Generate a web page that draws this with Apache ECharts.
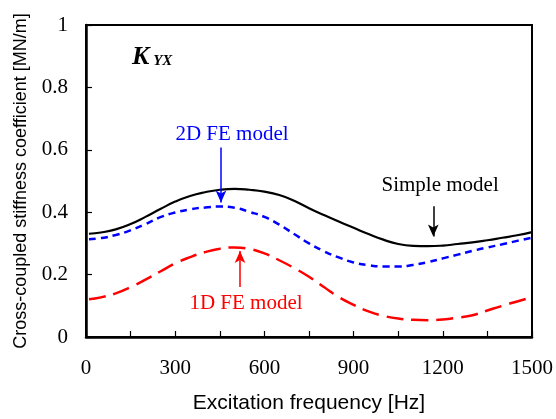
<!DOCTYPE html>
<html><head><meta charset="utf-8">
<script src="https://cdn.jsdelivr.net/npm/echarts@6/dist/echarts.min.js"></script>
<style>html,body{margin:0;padding:0;background:#fff}#c{width:556px;height:419px}</style>
</head><body><div id="c"></div>
<script>
const freqs = [10,50,100,150,200,250,300,350,400,450,500,550,600,650,700,750,800,850,900,950,1000,1050,1100,1150,1200,1250,1300,1350,1400,1450,1500];
const simpleModel = [0.331,0.335,0.345,0.362,0.385,0.410,0.434,0.452,0.464,0.472,0.475,0.472,0.466,0.455,0.437,0.413,0.391,0.370,0.350,0.330,0.312,0.298,0.292,0.291,0.293,0.298,0.303,0.310,0.318,0.326,0.336];
const fe2dModel = [0.313,0.317,0.327,0.342,0.362,0.384,0.399,0.409,0.415,0.418,0.414,0.401,0.385,0.360,0.330,0.300,0.275,0.255,0.239,0.230,0.226,0.226,0.231,0.240,0.252,0.264,0.276,0.287,0.297,0.308,0.318];
const fe1dModel = [0.121,0.127,0.140,0.160,0.184,0.210,0.236,0.256,0.272,0.283,0.287,0.282,0.268,0.246,0.221,0.193,0.160,0.128,0.103,0.082,0.068,0.059,0.055,0.054,0.056,0.062,0.070,0.085,0.100,0.114,0.127];
const xTicks = [0,300,600,900,1200,1500];
const yTicks = [0,0.2,0.4,0.6,0.8,1];

const pair = a => freqs.map((f,i)=>[f,a[i]]);
const serif = 'Liberation Serif';
const sans = 'Liberation Sans';

function arrowLine(x, y0, y1, color){
  return {
    silent:true, symbol:['none','arrow'], symbolSize:[8,12],
    lineStyle:{color:color,width:1.5,type:'solid'}, label:{show:false},
    data:[[{coord:[x,y0]},{coord:[x,y1]}]], animation:false
  };
}

const chart = echarts.init(document.getElementById('c'));
chart.setOption({
  animation:false,
  grid:{left:86,top:25,right:24,bottom:81,show:true,borderColor:'#000',borderWidth:2},
  xAxis:{type:'value',min:0,max:1500,interval:150,
    name:'Excitation frequency [Hz]',nameLocation:'middle',nameGap:56,
    nameTextStyle:{fontFamily:sans,fontSize:21,color:'#000'},
    axisLine:{lineStyle:{color:'#000',width:2.5}},
    axisTick:{inside:true,length:6,lineStyle:{color:'#000',width:1.2}},
    axisLabel:{fontFamily:serif,fontSize:21,color:'#000',margin:21,
      formatter:v=>xTicks.indexOf(v)>=0?String(v):''},
    splitLine:{show:false}},
  yAxis:{type:'value',min:0,max:1,interval:0.2,
    name:'Cross-coupled stiffness coefficient [MN/m]',nameLocation:'middle',nameGap:56,
    nameTextStyle:{fontFamily:sans,fontSize:18,color:'#000'},
    axisLine:{lineStyle:{color:'#000',width:2.5}},
    axisTick:{inside:true,length:6,lineStyle:{color:'#000',width:1.2}},
    axisLabel:{fontFamily:serif,fontSize:21,color:'#000',margin:18,
      formatter:v=>{const t=yTicks.find(k=>Math.abs(k-v)<1e-9);return t===undefined?'':String(t);}},
    splitLine:{show:false}},
  series:[
    {type:'line',name:'Simple model',data:pair(simpleModel),smooth:true,showSymbol:false,
      lineStyle:{color:'#000',width:2.2},markLine:arrowLine(1168,0.419,0.322,'#000')},
    {type:'line',name:'2D FE model',data:pair(fe2dModel),smooth:true,showSymbol:false,
      lineStyle:{color:'#0000ff',width:2.5,type:[7,5]},markLine:arrowLine(454,0.607,0.431,'#0000ff')},
    {type:'line',name:'1D FE model',data:pair(fe1dModel),smooth:true,showSymbol:false,
      lineStyle:{color:'#ff0000',width:2.5,type:[17,8]},markLine:arrowLine(518,0.160,0.276,'#ff0000')}
  ]
});

function px(x,y){return chart.convertToPixel({xAxisIndex:0,yAxisIndex:0},[x,y]);}
const p2 = px(491,0.649), p1 = px(538,0.109), ps = px(1191,0.486), pk = px(155,0.895);
const annFont = '21px "Liberation Serif"';
chart.setOption({graphic:[
  {type:'text',x:p2[0],y:p2[1],style:{text:'2D FE model',fill:'#0000ff',font:annFont,align:'center',verticalAlign:'middle'}},
  {type:'text',x:p1[0],y:p1[1],style:{text:'1D FE model',fill:'#ff0000',font:annFont,align:'center',verticalAlign:'middle'}},
  {type:'text',x:ps[0],y:ps[1],style:{text:'Simple model',fill:'#000',font:annFont,align:'center',verticalAlign:'middle'}},
  {type:'text',x:pk[0],y:pk[1],style:{text:'{k|K}{s| YX}',align:'left',verticalAlign:'middle',
    rich:{k:{fontFamily:serif,fontSize:26,fontWeight:'bold',fontStyle:'italic',fill:'#000'},
          s:{fontFamily:serif,fontSize:15,fontWeight:'bold',fontStyle:'italic',fill:'#000',padding:[7,0,0,0]}}}}
]});
</script></body></html>
